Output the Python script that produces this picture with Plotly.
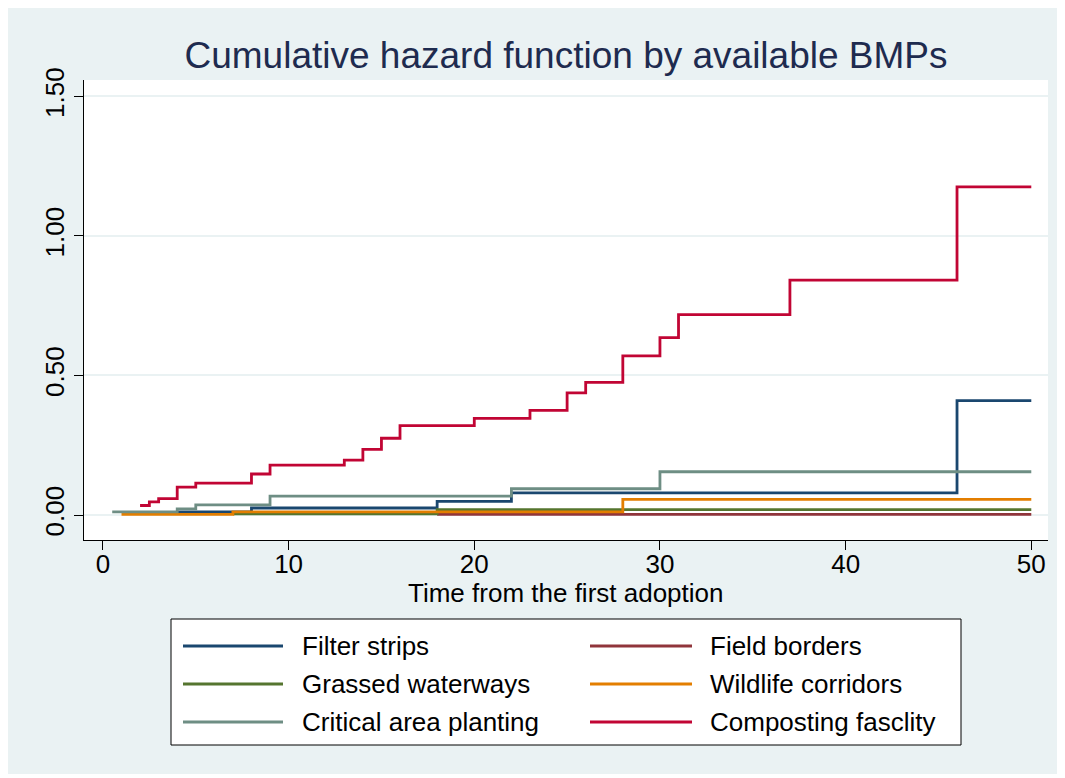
"""Cumulative hazard function by available BMPs (Stata-style step plot)."""

import plotly.graph_objects as go

# time (years since first adoption) and cumulative hazard for each BMP
filter_t = [4, 8, 18, 22, 46, 50]
filter_v = [0.011, 0.025, 0.049, 0.079, 0.410, 0.410]

field_t = [18, 50]
field_v = [0.002, 0.002]

grassed_t = [7, 18, 50]
grassed_v = [0.004, 0.019, 0.019]

wildlife_t = [1, 7, 28, 50]
wildlife_v = [0.002, 0.011, 0.056, 0.056]

critical_t = [0.5, 4, 5, 9, 22, 30, 50]
critical_v = [0.011, 0.022, 0.036, 0.068, 0.094, 0.155, 0.155]

compost_t = [2, 2.5, 3, 4, 5, 8, 9, 13, 14, 15, 16, 20, 23, 25, 26, 28, 30, 31, 37, 46, 50]
compost_v = [0.034, 0.047, 0.059, 0.100, 0.114, 0.147, 0.179, 0.197, 0.235, 0.275,
             0.320, 0.346, 0.375, 0.438, 0.475, 0.570, 0.636, 0.718, 0.842, 1.176, 1.176]

x_ticks = [0, 10, 20, 30, 40, 50]
y_ticks = [0, 0.5, 1.0, 1.5]
y_tick_labels = ["0.00", "0.50", "1.00", "1.50"]

series = [
    ("Filter strips", filter_t, filter_v, "#1A476F"),
    ("Field borders", field_t, field_v, "#90353B"),
    ("Grassed waterways", grassed_t, grassed_v, "#55752F"),
    ("Wildlife corridors", wildlife_t, wildlife_v, "#E37E00"),
    ("Critical area planting", critical_t, critical_v, "#6E8E84"),
    ("Composting fasclity", compost_t, compost_v, "#C10534"),
]

FONT = "Liberation Sans, Arial, sans-serif"
W, H = 1050, 766
L, T, PW, PH = 76, 72, 964, 460   # plot area in figure pixels


def px_x(x):
    return (x - L) / PW


def px_y(y):
    return (T + PH - y) / PH


fig = go.Figure()
for name, t, v, color in series:
    fig.add_trace(
        go.Scatter(
            x=t,
            y=v,
            name=name,
            mode="lines",
            line=dict(color=color, width=2.8, shape="hv"),
            showlegend=False,
        )
    )

# Stata-like legend box: two columns, long line keys
shapes = [
    dict(type="rect", xref="paper", yref="paper",
         x0=px_x(163), x1=px_x(953), y0=px_y(737), y1=px_y(611),
         line=dict(color="black", width=1), fillcolor="white", layer="above")
]
annotations = [
    # x axis title sits tight under the tick labels, as in Stata
    dict(text="Time from the first adoption", xref="paper", yref="paper",
         x=0.5, y=px_y(585), xanchor="center", yanchor="middle", showarrow=False,
         font=dict(size=26, color="black", family=FONT))
]
row_y = [638, 676, 714]
col_line = [(175, 275), (582, 684)]
col_text = [292, 700]
for i, (name, _, _, color) in enumerate(series):
    r, c = divmod(i, 2)
    yy = px_y(row_y[r])
    shapes.append(dict(type="line", xref="paper", yref="paper",
                       x0=px_x(col_line[c][0]), x1=px_x(col_line[c][1]), y0=yy, y1=yy,
                       line=dict(color=color, width=2.8), layer="above"))
    annotations.append(dict(text=name, xref="paper", yref="paper", x=px_x(col_text[c]), y=yy,
                            xanchor="left", yanchor="middle", showarrow=False,
                            font=dict(size=26, color="black", family=FONT)))

fig.update_layout(
    width=W,
    height=H,
    margin=dict(l=L, r=W - L - PW, t=T, b=H - T - PH),
    paper_bgcolor="#EAF2F3",
    plot_bgcolor="white",
    font=dict(family=FONT, color="black", size=26),
    showlegend=False,
    shapes=shapes,
    annotations=annotations,
    title=dict(
        text="Cumulative hazard function by available BMPs",
        x=0.5,
        xref="paper",
        xanchor="center",
        y=1 - 47 / H,
        yref="container",
        yanchor="middle",
        font=dict(size=37, color="#1E2B4F", family=FONT),
    ),
    xaxis=dict(
        range=[-1.02, 50.9],
        tickvals=x_ticks,
        ticks="outside",
        ticklen=9,
        tickcolor="black",
        ticklabelstandoff=-8,
        showline=True,
        linecolor="black",
        linewidth=1,
        showgrid=False,
        zeroline=False,
        tickfont=dict(size=26),
    ),
    yaxis=dict(
        range=[-0.0896, 1.559],
        tickvals=y_ticks,
        ticktext=y_tick_labels,
        tickangle=-90,
        ticks="outside",
        ticklen=9,
        tickcolor="black",
        showline=True,
        linecolor="black",
        linewidth=1,
        showgrid=True,
        gridcolor="#EAF2F3",
        gridwidth=2,
        zeroline=False,
        tickfont=dict(size=26),
    ),
)

fig.write_html("out.html")
